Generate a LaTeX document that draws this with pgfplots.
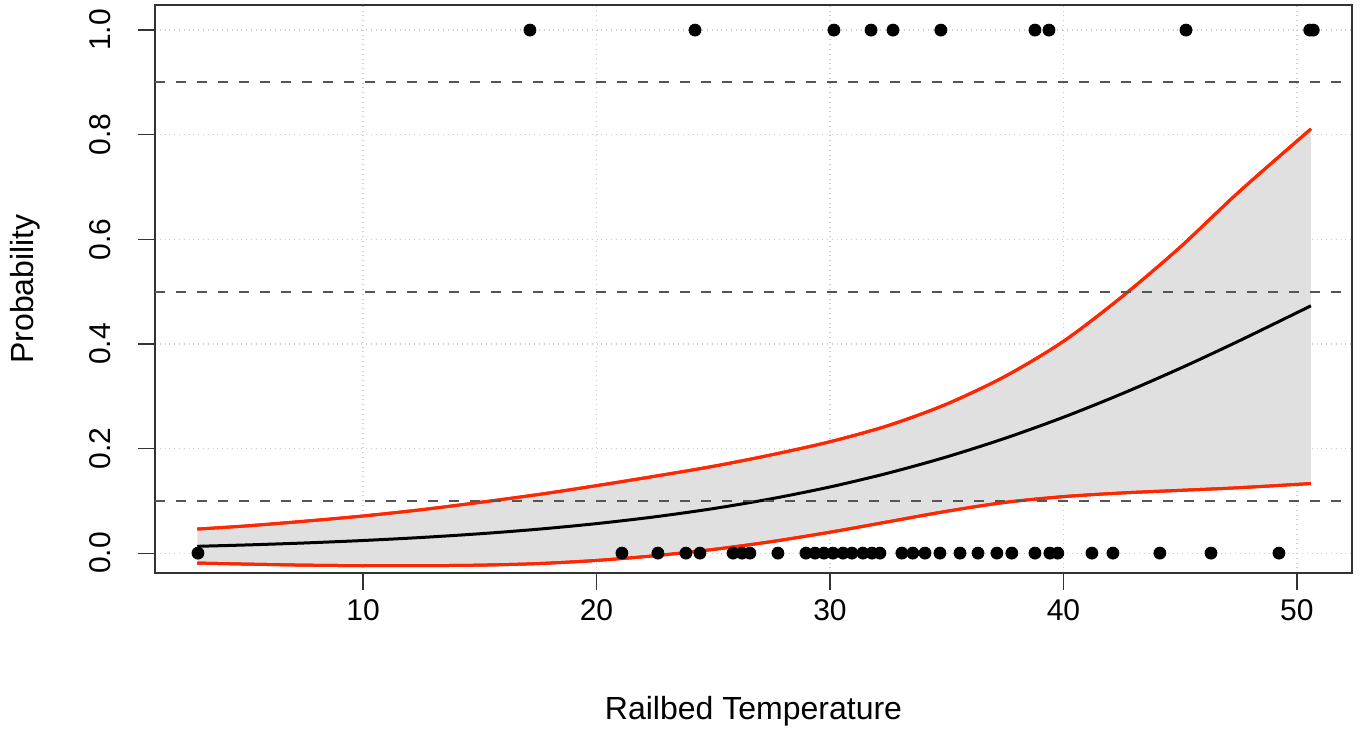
\documentclass[border=0pt]{standalone}
\usepackage{fontspec}
\setmainfont{Liberation Sans}
\usepackage{pgfplots}
\pgfplotsset{compat=1.18}
\usepgfplotslibrary{fillbetween}
\usetikzlibrary{calc}

\definecolor{rred}{RGB}{255,38,0}
\definecolor{bandgray}{RGB}{224,224,224}
\definecolor{dashgray}{RGB}{85,85,85}
\definecolor{gridgray}{RGB}{205,205,205}

\begin{document}
\begin{tikzpicture}
\begin{axis}[
  set layers,
  scale only axis,
  width=598.5pt, height=284pt,
  xmin=1.09, xmax=52.36,
  ymin=-0.038, ymax=1.048,
  xtick={10,20,30,40,50},
  ytick={0,0.2,0.4,0.6,0.8,1.0},
  yticklabels={0.0,0.2,0.4,0.6,0.8,1.0},
  grid=major,
  grid style={gridgray, dotted, line width=0.6pt},
  tick align=outside,
  major tick length=8.5pt,
  tick style={black!80, line width=0.6pt},
  axis line style={black!80, line width=0.6pt},
  xtick pos=bottom, ytick pos=left,
  /pgf/number format/assume math mode=true,
  every tick label/.append style={font=\fontsize{15}{18}\selectfont},
  xticklabel style={yshift=-1pt},
  yticklabel style={xshift=-10pt, rotate=90, anchor=south},
  xlabel={Railbed Temperature},
  ylabel={Probability},
  every axis x label/.style={at={(axis description cs:0.5,-0.243)}, anchor=center,
    font=\fontsize{16}{19}\selectfont},
  every axis y label/.style={at={(axis description cs:-0.1086,0.5)}, rotate=90, anchor=center,
    font=\fontsize{16}{19}\selectfont},
]
% confidence band
\addplot[name path=upper, rred, line width=1.5pt, smooth] coordinates {
  (2.9,0.046)(5,0.052)(7.5,0.061)(10,0.071)(12.5,0.083)(15,0.097)
  (17.5,0.112)(20,0.129)(22.5,0.147)(25,0.166)(27.5,0.188)(30,0.213)
  (32.5,0.244)(35,0.285)(37.5,0.338)(40,0.405)(42.5,0.490)(45,0.585)
  (47.5,0.690)(50.6,0.811)};
\addplot[name path=lower, rred, line width=1.5pt, smooth] coordinates {
  (2.9,-0.019)(5,-0.021)(7.5,-0.023)(10,-0.024)(12.5,-0.024)(15,-0.023)
  (17.5,-0.020)(20,-0.014)(22.5,-0.005)(25,0.007)(27.5,0.022)(30,0.040)
  (32.5,0.060)(35,0.080)(37.5,0.097)(40,0.108)(42.5,0.115)(45,0.120)
  (47.5,0.125)(50.6,0.133)};
\addplot[bandgray, draw=none] fill between[of=upper and lower];

% fitted curve
\addplot[black, line width=1.5pt, smooth] coordinates {
  (2.9,0.0130)(5,0.0156)(7.5,0.0194)(10,0.0241)(12.5,0.0299)(15,0.0370)
  (17.5,0.0457)(20,0.0564)(22.5,0.0694)(25,0.0851)(27.5,0.1040)(30,0.1265)
  (32.5,0.1531)(35,0.1840)(37.5,0.2196)(40,0.2598)(42.5,0.3046)(45,0.3533)
  (47.5,0.4053)(50.6,0.4728)};

% redraw red lines over the fill
\addplot[rred, line width=1.5pt, smooth] coordinates {
  (2.9,0.046)(5,0.052)(7.5,0.061)(10,0.071)(12.5,0.083)(15,0.097)
  (17.5,0.112)(20,0.129)(22.5,0.147)(25,0.166)(27.5,0.188)(30,0.213)
  (32.5,0.244)(35,0.285)(37.5,0.338)(40,0.405)(42.5,0.490)(45,0.585)
  (47.5,0.690)(50.6,0.811)};
\addplot[rred, line width=1.5pt, smooth] coordinates {
  (2.9,-0.019)(5,-0.021)(7.5,-0.023)(10,-0.024)(12.5,-0.024)(15,-0.023)
  (17.5,-0.020)(20,-0.014)(22.5,-0.005)(25,0.007)(27.5,0.022)(30,0.040)
  (32.5,0.060)(35,0.080)(37.5,0.097)(40,0.108)(42.5,0.115)(45,0.120)
  (47.5,0.125)(50.6,0.133)};

% reference lines
\addplot[dashgray, line width=1pt, dash pattern=on 5pt off 5.5pt] coordinates {(1.09,0.9)(52.36,0.9)};
\addplot[dashgray, line width=1pt, dash pattern=on 5pt off 5.5pt] coordinates {(1.09,0.5)(52.36,0.5)};
\addplot[dashgray, line width=1pt, dash pattern=on 5pt off 5.5pt] coordinates {(1.09,0.1)(52.36,0.1)};

% observations
\addplot[only marks, mark=*, mark size=3pt, black] coordinates {
  (17.15,1)(24.22,1)(30.17,1)(31.76,1)(32.70,1)(34.75,1)(38.78,1)
  (39.38,1)(45.25,1)(50.55,1)(50.70,1)};
\addplot[only marks, mark=*, mark size=3pt, black] coordinates {
  (2.93,0)(21.09,0)(22.63,0)(23.83,0)(24.43,0)(25.85,0)(26.23,0)
  (26.57,0)(27.77,0)(28.97,0)(29.36,0)(29.74,0)(30.13,0)(30.56,0)
  (30.94,0)(31.41,0)(31.80,0)(32.14,0)(33.08,0)(33.55,0)(34.07,0)
  (34.71,0)(35.57,0)(36.34,0)(37.15,0)(37.79,0)(38.78,0)(39.42,0)
  (39.76,0)(41.22,0)(42.12,0)(44.13,0)(46.32,0)(49.23,0)};
\end{axis}
\pgfresetboundingbox
\path ($(current axis.south west)+(-77.5pt,-79.5pt)$) rectangle ($(current axis.north east)+(5pt,2.5pt)$);
\end{tikzpicture}
\end{document}
